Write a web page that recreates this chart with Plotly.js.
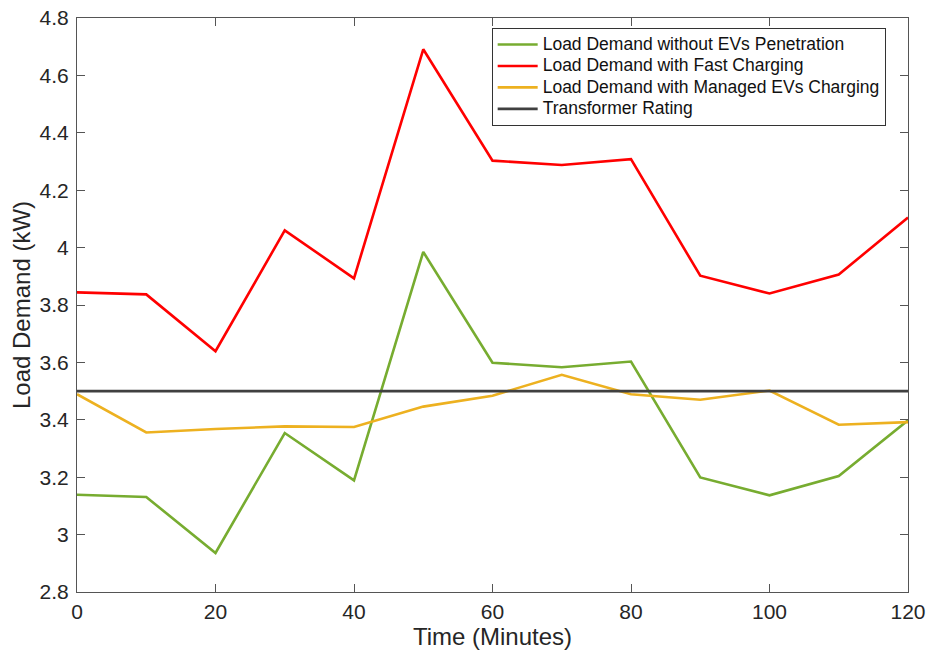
<!DOCTYPE html>
<html>
<head>
<meta charset="utf-8">
<script src="https://cdn.plot.ly/plotly-3.0.1.min.js"></script>
<style>html,body{margin:0;padding:0;background:#fff;}#chart{width:928px;height:657px;}</style>
</head>
<body>
<div id="chart"></div>
<script>
const timeMinutes = [0, 10, 20, 30, 40, 50, 60, 70, 80, 90, 100, 110, 120];
const withoutEVs = [3.139, 3.131, 2.936, 3.354, 3.189, 3.985, 3.599, 3.583, 3.603, 3.199, 3.137, 3.204, 3.398];
const fastCharging = [3.844, 3.837, 3.639, 4.060, 3.893, 4.691, 4.303, 4.288, 4.308, 3.902, 3.840, 3.906, 4.105];
const managedCharging = [3.489, 3.356, 3.368, 3.377, 3.375, 3.446, 3.484, 3.557, 3.489, 3.470, 3.502, 3.383, 3.392];
const transformerRating = [3.5, 3.5, 3.5, 3.5, 3.5, 3.5, 3.5, 3.5, 3.5, 3.5, 3.5, 3.5, 3.5];
const seriesNames = [
  'Load Demand without EVs Penetration',
  'Load Demand with Fast Charging',
  'Load Demand with Managed EVs Charging',
  'Transformer Rating'
];
const xTicks = [0, 20, 40, 60, 80, 100, 120];
const yTicks = [2.8, 3, 3.2, 3.4, 3.6, 3.8, 4, 4.2, 4.4, 4.6, 4.8];
const yTickText = ['2.8', '3', '3.2', '3.4', '3.6', '3.8', '4', '4.2', '4.4', '4.6', '4.8'];

const colors = ['#77AC30', '#FF0000', '#EDB120', '#404040'];
const ys = [withoutEVs, fastCharging, managedCharging, transformerRating];

const traces = ys.map((y, i) => ({
  x: timeMinutes,
  y: y,
  type: 'scatter',
  mode: 'lines',
  name: '<span style="font-size:17.5px">' + seriesNames[i] + '</span>',
  line: {color: colors[i], width: 2.6}
}));

const axisCommon = {
  showgrid: false,
  zeroline: false,
  showline: true,
  linecolor: '#555555',
  linewidth: 1,
  mirror: 'allticks',
  ticks: 'inside',
  ticklen: 8,
  tickcolor: '#555555',
  tickwidth: 1,
  tickfont: {family: 'Liberation Sans, Arial, sans-serif', size: 21, color: '#262626'}
};

const layout = {
  width: 928,
  height: 657,
  margin: {l: 77, r: 20, t: 18, b: 65},
  paper_bgcolor: '#ffffff',
  plot_bgcolor: '#ffffff',
  showlegend: true,
  font: {family: 'Liberation Sans, Arial, sans-serif', color: '#262626'},
  xaxis: Object.assign({}, axisCommon, {
    range: [0, 120],
    tickvals: xTicks,
    ticktext: xTicks.map(String),
    ticklabelstandoff: 1,
    title: {text: 'Time (Minutes)', font: {size: 24, color: '#262626'}, standoff: 0}
  }),
  yaxis: Object.assign({}, axisCommon, {
    range: [2.8, 4.8],
    tickvals: yTicks,
    ticktext: yTickText,
    ticklabelstandoff: 3,
    title: {text: 'Load Demand (kW)', font: {size: 24, color: '#262626'}, standoff: 2}
  }),
  legend: {
    x: 0.499,
    y: 0.983,
    xanchor: 'left',
    yanchor: 'top',
    bgcolor: '#ffffff',
    bordercolor: '#333333',
    borderwidth: 1,
    font: {family: 'Liberation Sans, Arial, sans-serif', size: 14.2, color: '#111111'},
    tracegroupgap: 0,
    itemwidth: 40
  }
};

Plotly.newPlot('chart', traces, layout, {displayModeBar: false, staticPlot: true});
</script>
</body>
</html>
